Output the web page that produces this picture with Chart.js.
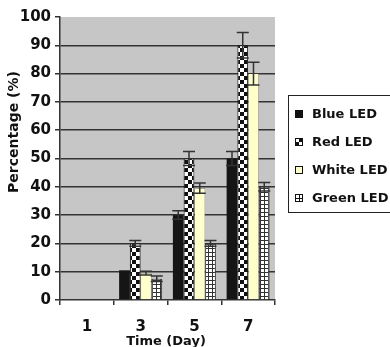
<!DOCTYPE html>
<html lang="en">
<head>
    <meta charset="UTF-8">
    <title>LED Percentage by Day</title>
    <script src="https://cdn.jsdelivr.net/npm/chart.js"></script>
    <style>
        body { margin: 0; background: #fff; font-family: 'DejaVu Sans', sans-serif; }
        .wrap { position: relative; width: 390px; height: 347px; overflow: hidden; }
        .legend {
            position: absolute; left: 288px; top: 95px; width: 120px; height: 118px;
            border: 1px solid #222; box-sizing: border-box; padding-top: 4px;
        }
        .legend div { height: 28px; line-height: 28px; font-weight: bold; font-size: 13px; color: #111; white-space: nowrap; }
        .legend span { display: inline-block; width: 8px; height: 8px; margin: 0 9px 0 6px; box-sizing: border-box; vertical-align: 0px; }
        .sw-blue { background: #111; }
        .sw-red { border: 1px solid #111; background: conic-gradient(#111 0 25%, #fff 0 50%, #111 0 75%, #fff 0) 0 0 / 6px 6px; }
        .sw-white { border: 1px solid #111; background: #ffffcc; }
        .sw-green { border: 1px solid #111; background: linear-gradient(#111, #111) center / 1px 100% no-repeat, linear-gradient(#111, #111) center / 100% 1px no-repeat, #fff; }
    </style>
</head>
<body>
<div class="wrap">
    <canvas id="chart" width="390" height="347"></canvas>
    <div class="legend">
        <div><span class="sw-blue"></span>Blue LED</div>
        <div><span class="sw-red"></span>Red LED</div>
        <div><span class="sw-white"></span>White LED</div>
        <div><span class="sw-green"></span>Green LED</div>
    </div>
</div>

<script>
    // data
    const days = ['1', '3', '5', '7'];
    const blueLed = [0, 10.5, 30, 50];
    const redLed = [0, 20, 50, 90];
    const whiteLed = [0, 9.5, 39.5, 80];
    const greenLed = [0, 7.5, 20, 40];
    const blueErr = [0, 0, 1.5, 2.5];
    const redErr = [0, 1, 2.5, 4.5];
    const whiteErr = [0, 0.7, 1.8, 4];
    const greenErr = [0, 1, 1, 1.5];
    const yTicks = [0, 10, 20, 30, 40, 50, 60, 70, 80, 90, 100];

    // fill patterns
    function makePattern(size, draw) {
        const c = document.createElement('canvas');
        c.width = size; c.height = size;
        const g = c.getContext('2d');
        draw(g);
        return g.createPattern(c, 'repeat');
    }
    const checker = makePattern(8, g => {
        g.fillStyle = '#fff'; g.fillRect(0, 0, 8, 8);
        g.fillStyle = '#111'; g.fillRect(0, 0, 4, 4); g.fillRect(4, 4, 4, 4);
    });
    const gridFill = makePattern(4, g => {
        g.fillStyle = '#fff'; g.fillRect(0, 0, 4, 4);
        g.fillStyle = '#333'; g.fillRect(0, 0, 1, 4); g.fillRect(0, 0, 4, 1);
    });

    const plotBg = {
        id: 'plotBg',
        beforeDraw(chart) {
            const a = chart.chartArea, ctx = chart.ctx;
            ctx.save();
            ctx.fillStyle = '#c6c6c6';
            ctx.fillRect(a.left, a.top, a.right - a.left, a.bottom - a.top);
            ctx.restore();
        }
    };

    const errorBars = {
        id: 'errorBars',
        afterDatasetsDraw(chart) {
            const ctx = chart.ctx, y = chart.scales.y;
            ctx.save();
            ctx.strokeStyle = '#333';
            ctx.lineWidth = 1.5;
            chart.data.datasets.forEach((ds, i) => {
                chart.getDatasetMeta(i).data.forEach((bar, j) => {
                    const e = ds.errors[j];
                    if (!e) return;
                    const top = y.getPixelForValue(ds.data[j] + e);
                    const bot = y.getPixelForValue(ds.data[j] - e);
                    ctx.beginPath();
                    ctx.moveTo(bar.x, top); ctx.lineTo(bar.x, bot);
                    ctx.moveTo(bar.x - 6, top); ctx.lineTo(bar.x + 6, top);
                    ctx.moveTo(bar.x - 6, bot); ctx.lineTo(bar.x + 6, bot);
                    ctx.stroke();
                });
            });
            ctx.restore();
        }
    };

    const axisTitles = {
        id: 'axisTitles',
        afterDraw(chart) {
            const ctx = chart.ctx;
            ctx.save();
            ctx.fillStyle = '#111';
            ctx.font = 'bold 14px "DejaVu Sans"';
            ctx.textAlign = 'center';
            ctx.textBaseline = 'middle';
            ctx.translate(14, 132);
            ctx.rotate(-Math.PI / 2);
            ctx.fillText('Percentage (%)', 0, 0);
            ctx.restore();
            ctx.save();
            ctx.fillStyle = '#111';
            ctx.font = 'bold 13px "DejaVu Sans"';
            ctx.textAlign = 'center';
            ctx.textBaseline = 'middle';
            ctx.fillText('Time (Day)', 166, 342);
            ctx.restore();
        }
    };

    const tickFont = { family: 'DejaVu Sans', size: 15, weight: 'bold' };

    new Chart(document.getElementById('chart'), {
        type: 'bar',
        data: {
            labels: days,
            datasets: [
                { label: 'Blue LED', data: blueLed, errors: blueErr, backgroundColor: '#151515', borderColor: '#151515', borderWidth: 0 },
                { label: 'Red LED', data: redLed, errors: redErr, backgroundColor: checker, borderColor: '#111', borderWidth: 1 },
                { label: 'White LED', data: whiteLed, errors: whiteErr, backgroundColor: '#ffffcc', borderColor: '#444', borderWidth: 0.5 },
                { label: 'Green LED', data: greenLed, errors: greenErr, backgroundColor: gridFill, borderColor: '#333', borderWidth: 1 }
            ]
        },
        options: {
            responsive: false,
            animation: false,
            categoryPercentage: 0.8,
            barPercentage: 1.0,
            layout: { padding: { top: 17, right: 115, left: 0, bottom: 0 } },
            plugins: { legend: { display: false }, tooltip: { enabled: false } },
            scales: {
                x: {
                    afterFit: s => { s.height = 47; },
                    grid: { offset: true, drawOnChartArea: false, tickLength: 5, color: '#333', lineWidth: 1.5 },
                    border: { color: '#333', width: 1.5 },
                    ticks: { color: '#111', font: tickFont, padding: 13, maxRotation: 0 }
                },
                y: {
                    min: 0, max: 100,
                    afterFit: s => { s.width = 60; },
                    afterBuildTicks: s => { s.ticks = yTicks.map(v => ({ value: v })); },
                    grid: {
                        color: c => (c.tick.value === 100 || c.tick.value === 0) ? 'rgba(0,0,0,0)' : '#333',
                        tickColor: '#333', lineWidth: 1.5, tickLength: 5
                    },
                    border: { color: '#333', width: 1.5 },
                    ticks: { color: '#111', font: tickFont, padding: 4 }
                }
            }
        },
        plugins: [plotBg, errorBars, axisTitles]
    });
</script>
</body>
</html>
